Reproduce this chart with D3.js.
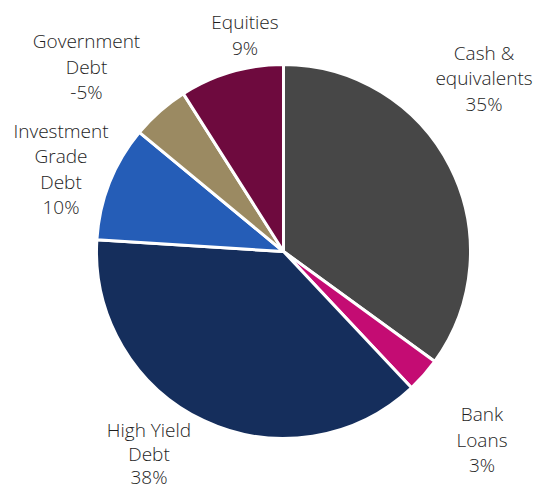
<!DOCTYPE html>
<html><head><meta charset="utf-8">
<script src="https://cdn.jsdelivr.net/npm/d3@7"></script>
<style>html,body{margin:0;padding:0;background:#fff;}svg{display:block;}</style>
</head><body>
<svg id="chart" width="536" height="491"></svg>
<script>
const categories = ["Cash & equivalents", "Bank Loans", "High Yield Debt", "Investment Grade Debt", "Government Debt", "Equities"];
const values = [35, 3, 38, 10, -5, 9];
const labelLines = [["Cash &", "equivalents"], ["Bank", "Loans"], ["High Yield", "Debt"], ["Investment", "Grade", "Debt"], ["Government", "Debt"], ["Equities"]];
const colors = ["#474747", "#C40C73", "#152E5C", "#255DB7", "#9B8A62", "#6E0A3E"];
// label layout (centre x, first line baseline y)
const labelLayout = [[484, 59.5], [482, 421], [149, 437], [61, 137.5], [86.5, 48], [245, 29]];

const svg = d3.select("#chart");
const cx = 283.5, cy = 251.5, r = 187;
const g = svg.append("g").attr("transform", `translate(${cx},${cy})`);
const data = categories.map((c, i) => ({name: c, value: values[i], i}));
const pie = d3.pie().value(d => Math.abs(d.value)).sort(null);
const arc = d3.arc().innerRadius(0).outerRadius(r);
g.selectAll("path").data(pie(data)).join("path")
  .attr("d", arc)
  .attr("fill", d => colors[d.data.i])
  .attr("stroke", "#fff")
  .attr("stroke-width", 3)
  .attr("stroke-linejoin", "round");

data.forEach((d, i) => {
  const lh = i === 2 ? 23.5 : 25.5;
  const lines = labelLines[i].concat([String(d.value) + "%"]);
  const t = svg.append("text")
    .attr("text-anchor", "middle")
    .attr("font-family", "'Open Sans', sans-serif")
    .attr("font-weight", 300)
    .attr("font-size", 19)
    .attr("fill", "#1e1e1e");
  lines.forEach((ln, k) => {
    t.append("tspan").attr("x", labelLayout[i][0]).attr("y", labelLayout[i][1] + k * lh).text(ln);
  });
});
</script>
</body></html>
